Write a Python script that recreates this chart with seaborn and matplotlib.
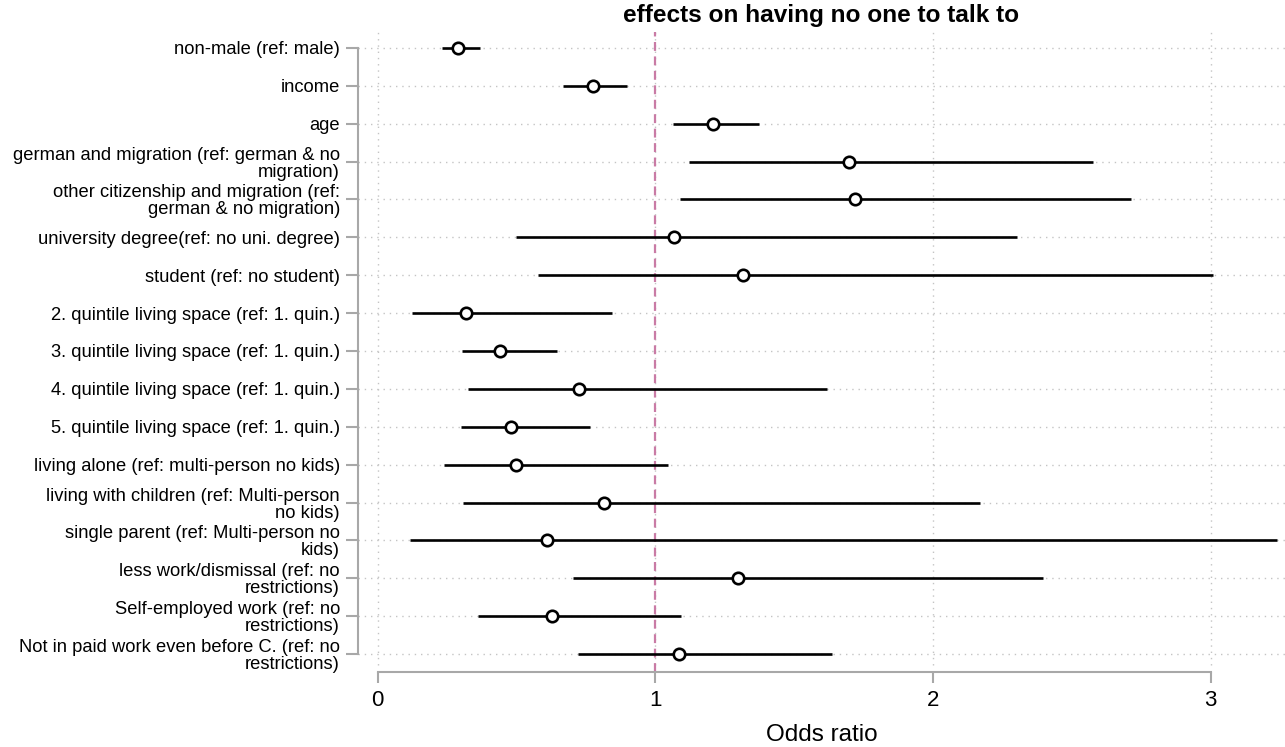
import matplotlib
matplotlib.use("Agg")
import matplotlib.pyplot as plt
import seaborn as sns
import pandas as pd

labels = [
    "non-male (ref: male)",
    "income",
    "age",
    "german and migration (ref: german & no\nmigration)",
    "other citizenship and migration (ref:\ngerman & no migration)",
    "university degree(ref: no uni. degree)",
    "student (ref: no student)",
    "2. quintile living space (ref: 1. quin.)",
    "3. quintile living space (ref: 1. quin.)",
    "4. quintile living space (ref: 1. quin.)",
    "5. quintile living space (ref: 1. quin.)",
    "living alone (ref: multi-person no kids)",
    "living with children (ref: Multi-person\nno kids)",
    "single parent (ref: Multi-person no\nkids)",
    "less work/dismissal (ref: no\nrestrictions)",
    "Self-employed work (ref: no\nrestrictions)",
    "Not in paid work even before C. (ref: no\nrestrictions)",
]
odds = [0.29, 0.774, 1.206, 1.696, 1.718, 1.066, 1.314, 0.317, 0.439, 0.724,
        0.479, 0.497, 0.814, 0.609, 1.296, 0.626, 1.087]
lower = [0.23, 0.666, 1.062, 1.12, 1.088, 0.497, 0.576, 0.122, 0.302, 0.324,
         0.299, 0.238, 0.306, 0.115, 0.702, 0.36, 0.723]
upper = [0.37, 0.897, 1.372, 2.578, 2.715, 2.301, 3.01, 0.843, 0.645, 1.62,
         0.763, 1.044, 2.171, 3.24, 2.395, 1.091, 1.638]
xticks = [0, 1, 2, 3]

sns.set_theme(style="white")
plt.rcParams["font.family"] = ["Liberation Sans", "DejaVu Sans"]
plt.rcParams["text.color"] = "black"
plt.rcParams["axes.labelcolor"] = "black"
plt.rcParams["xtick.color"] = "black"
plt.rcParams["ytick.color"] = "black"

df = pd.DataFrame({"label": labels, "odds": odds, "lower": lower, "upper": upper,
                   "pos": range(len(labels))})

fig = plt.figure(figsize=(12.85, 7.47), dpi=100)
ax = fig.add_axes([358 / 1285, 1 - 672 / 747, 1 - 358 / 1285, (672 - 32) / 747])

grid_col = "#c4c4c4"
for y in df["pos"]:
    ax.axhline(y, color=grid_col, lw=1.0, ls=(0, (1, 3.5)), zorder=0)
for x in xticks:
    ax.axvline(x, ymin=(16.475 - 16.3) / 16.9, color=grid_col, lw=1.0, ls=(0, (1, 3.5)), zorder=0)

ax.axvline(1, color="#c97ba5", lw=1.6, ls=(0, (4, 2.5)), zorder=1)

ax.hlines(df["pos"], df["lower"], df["upper"], color="black", lw=1.9, zorder=2)
sns.scatterplot(data=df, x="odds", y="pos", ax=ax, marker="o", s=68,
                facecolor="white", edgecolor="black", linewidth=1.9, zorder=3)

ax.set_xlim(-0.071, 3.268)
ax.set_ylim(16.475, -0.422)
ax.set_yticks(list(df["pos"]))
ax.set_yticklabels(labels, fontsize=13.2, linespacing=1.0)
ax.set_xticks(xticks)
ax.set_xticklabels([str(t) for t in xticks], fontsize=16)

spine_col = "#a8a8a8"
for s in ["top", "right"]:
    ax.spines[s].set_visible(False)
ax.spines["left"].set_bounds(0, 16)
ax.spines["bottom"].set_bounds(0, 3)
ax.spines["left"].set_color(spine_col)
ax.spines["bottom"].set_color(spine_col)
ax.spines["left"].set_linewidth(1.5)
ax.spines["bottom"].set_linewidth(1.5)
ax.tick_params(axis="y", length=9, width=1.5, color=spine_col, pad=4, left=True)
ax.tick_params(axis="x", length=8, width=1.5, color=spine_col, pad=5, bottom=True)

ax.set_xlabel("Odds ratio", fontsize=17.5, labelpad=9)
ax.set_ylabel("")
ax.set_title("effects on having no one to talk to", fontsize=17.6, fontweight="bold", pad=7)

fig.savefig("out.png", dpi=100)
